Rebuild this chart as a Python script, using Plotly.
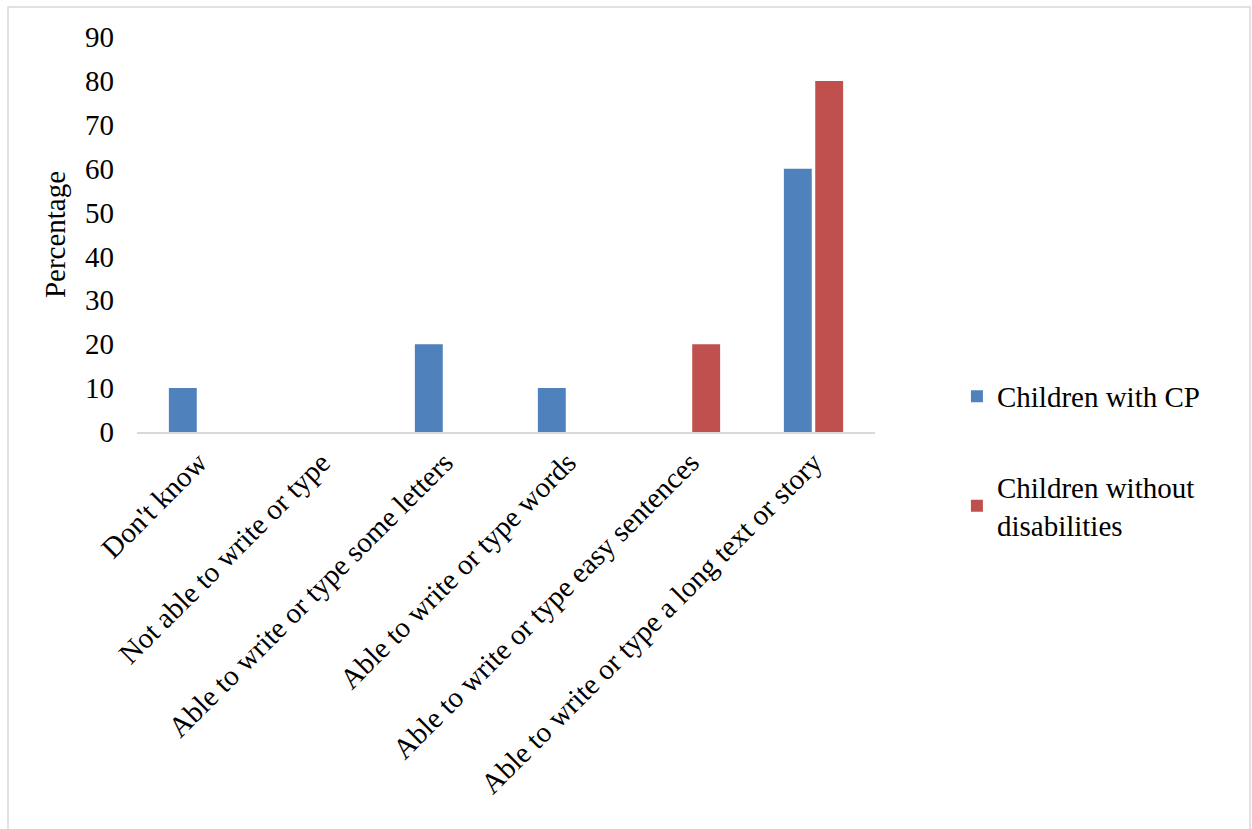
import plotly.graph_objects as go

categories = [
    "Don't know",
    "Not able to write or type",
    "Able to write or type some letters",
    "Able to write or type words",
    "Able to write or type easy sentences",
    "Able to write or type a long text or story",
]
cp_values = [10, 0, 20, 10, 0, 60]
no_dis_values = [0, 0, 0, 0, 20, 80]
y_ticks = [0, 10, 20, 30, 40, 50, 60, 70, 80, 90]

FONT = "Liberation Serif"
SIZE = 29

fig = go.Figure()
fig.add_trace(go.Bar(
    x=categories, y=cp_values, name="Children with CP",
    marker=dict(color="#4f81bd", line=dict(width=0)),
    legendgroup="a",
))
fig.add_trace(go.Bar(
    x=categories, y=no_dis_values, name="Children without<br>disabilities",
    marker=dict(color="#c0504d", line=dict(width=0)),
    legendgroup="b",
))

fig.update_layout(
    width=1252, height=829,
    margin=dict(l=137, r=377, t=37, b=397),
    paper_bgcolor="white", plot_bgcolor="white",
    font=dict(family=FONT, size=SIZE, color="black"),
    barmode="group", bargap=0.49, bargroupgap=0.11,
    showlegend=True,
    legend=dict(
        x=1.111, y=0.155, xanchor="left", yanchor="top",
        font=dict(family=FONT, size=SIZE, color="black"),
        tracegroupgap=50, itemwidth=30,
        bgcolor="rgba(0,0,0,0)",
    ),
    xaxis=dict(
        tickangle=-45, showgrid=False, showline=True, linecolor="#d9d9d9",
        linewidth=2, ticks="", tickfont=dict(family=FONT, size=SIZE),
    ),
    yaxis=dict(
        range=[0, 90], tickvals=y_ticks, showgrid=False, showline=False,
        zeroline=False, ticks="", ticklabelstandoff=22,
        tickfont=dict(family=FONT, size=SIZE),
        title=dict(text="Percentage", font=dict(family=FONT, size=SIZE), standoff=10),
    ),
    shapes=[dict(
        type="rect", xref="paper", yref="paper",
        x0=(8 - 137) / 738, x1=(1250 - 137) / 738,
        y0=-(900 - 432) / 395, y1=(432 - 7) / 395,
        line=dict(color="#d9d9d9", width=1.5), fillcolor="rgba(0,0,0,0)",
        layer="below",
    )],
)

fig.write_html("out.html")
